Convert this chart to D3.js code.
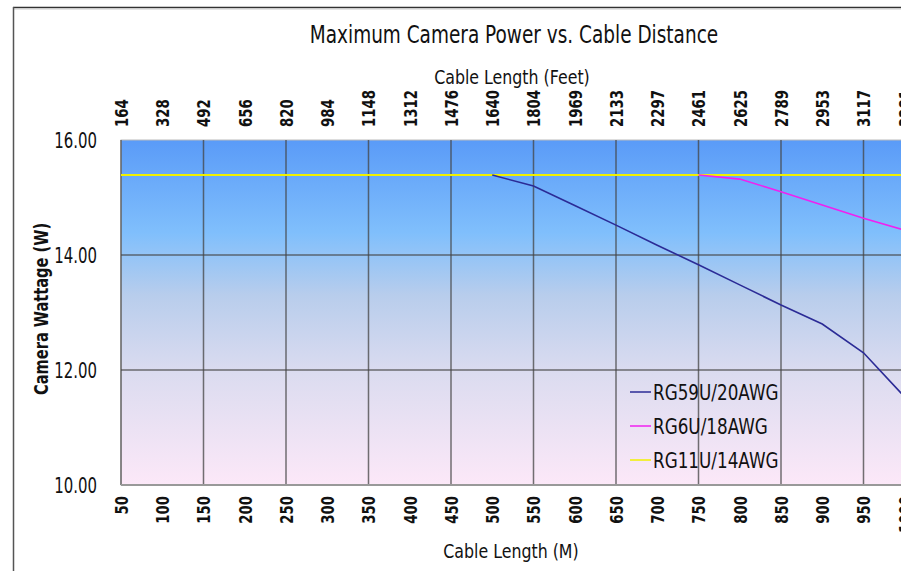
<!DOCTYPE html>
<html>
<head>
<meta charset="utf-8">
<script src="https://cdn.jsdelivr.net/npm/d3@7"></script>
<style>
body { margin: 0; background: #fff; }
svg text { font-family: "DejaVu Sans", sans-serif; fill: #111; }
</style>
</head>
<body>
<div id="chart"></div>
<script>
// data
const meters = [50,100,150,200,250,300,350,400,450,500,550,600,650,700,750,800,850,900,950,1000];
const feet = [164,328,492,656,820,984,1148,1312,1476,1640,1804,1969,2133,2297,2461,2625,2789,2953,3117,3281];
const yTicks = [10, 12, 14, 16];

const rg59 = [[500,15.39],[550,15.20],[600,14.86],[650,14.52],[700,14.17],[750,13.83],[800,13.48],[850,13.13],[900,12.80],[950,12.30],[1000,11.53]];
const rg6  = [[750,15.39],[800,15.32],[850,15.10],[900,14.87],[950,14.64],[1000,14.43]];
const rg11 = [[50,15.39],[1000,15.39]];

const seriesNames = ["RG59U/20AWG","RG6U/18AWG","RG11U/14AWG"];
const seriesColors = ["#2b2b96","#f020f0","#f0f000"];

const W = 901, H = 571;
const margin = { top: 140, left: 121, bottom: 86 };
const innerH = H - margin.top - margin.bottom;

const svg = d3.select("#chart").append("svg")
  .attr("width", W).attr("height", H);

// no condensed font installed, so squeeze text horizontally
function label(px, py, str, size, sx, anchor, rot) {
  const t = svg.append("text")
    .attr("transform", `translate(${px},${py}) rotate(${rot || 0}) scale(${sx},1)`)
    .attr("text-anchor", anchor || "middle")
    .style("font-size", size + "px")
    .text(str);
  return t;
}

// frame
svg.append("line").attr("x1", 13).attr("x2", W).attr("y1", 7.5).attr("y2", 7.5).attr("stroke", "#333").attr("stroke-width", 1.5);
svg.append("line").attr("x1", 13).attr("x2", W).attr("y1", 9).attr("y2", 9).attr("stroke", "#ccc");
svg.append("line").attr("x1", 13.5).attr("x2", 13.5).attr("y1", 7).attr("y2", H).attr("stroke", "#555").attr("stroke-width", 1.5);

const x = d3.scaleLinear().domain([50, 1000]).range([margin.left, 904.75]);
const y = d3.scaleLinear().domain([10, 16]).range([margin.top + innerH, margin.top]);

// background gradient
const grad = svg.append("defs").append("linearGradient")
  .attr("id", "bg").attr("x1", "0%").attr("y1", "0%").attr("x2", "0%").attr("y2", "100%");
grad.selectAll("stop")
  .data([
    {o: "0%", c: "#5a9bf8"},
    {o: "27%", c: "#80bffc"},
    {o: "45%", c: "#b8cdec"},
    {o: "68%", c: "#dcdcf0"},
    {o: "100%", c: "#fce8f8"}
  ])
  .enter().append("stop")
  .attr("offset", d => d.o)
  .attr("stop-color", d => d.c);

svg.append("rect")
  .attr("x", x(50)).attr("y", y(16))
  .attr("width", x(1000) - x(50)).attr("height", y(10) - y(16))
  .attr("fill", "url(#bg)")
  .attr("stroke", "#bbb");

// grid
const gridX = meters.filter((d, i) => i % 2 === 0);
svg.append("g").selectAll("line")
  .data(gridX).enter().append("line")
  .attr("x1", d => x(d)).attr("x2", d => x(d))
  .attr("y1", y(16)).attr("y2", y(10))
  .attr("stroke", "#444").attr("stroke-opacity", 0.75).attr("stroke-width", 1.5);
svg.append("g").selectAll("line")
  .data(yTicks.slice(1, 3)).enter().append("line")
  .attr("x1", x(50)).attr("x2", x(1000))
  .attr("y1", d => y(d)).attr("y2", d => y(d))
  .attr("stroke", "#444").attr("stroke-opacity", 0.75).attr("stroke-width", 1.5);
svg.append("line")
  .attr("x1", x(50)).attr("x2", x(1000)).attr("y1", y(10)).attr("y2", y(10))
  .attr("stroke", "#999").attr("stroke-width", 2);

// axes
const tickSx = 0.74;
const xBottom = d3.axisBottom(x).tickValues(meters).tickSize(0).tickPadding(0).tickFormat(d3.format("d"));
const gb = svg.append("g").attr("transform", `translate(0,${y(10)})`).call(xBottom);
gb.select(".domain").remove();
gb.selectAll("text")
  .attr("transform", `rotate(-90) scale(${tickSx},1)`)
  .attr("x", -11 / tickSx).attr("y", 0).attr("dy", "0.36em")
  .style("text-anchor", "end")
  .style("font-size", "18px").style("font-weight", "bold");

const xTop = d3.axisTop(x).tickValues(meters).tickSize(0).tickPadding(0).tickFormat((d, i) => feet[i]);
const gt = svg.append("g").attr("transform", `translate(0,${y(16)})`).call(xTop);
gt.select(".domain").remove();
gt.selectAll("text")
  .attr("transform", `rotate(-90) scale(${tickSx},1)`)
  .attr("x", 13 / tickSx).attr("y", 0).attr("dy", "0.36em")
  .style("text-anchor", "start")
  .style("font-size", "18px").style("font-weight", "bold");

const ySx = 0.68;
const yAxis = d3.axisLeft(y).tickValues(yTicks).tickSize(0).tickPadding(0).tickFormat(d3.format(".2f"));
const gy = svg.append("g").attr("transform", `translate(97,0)`).call(yAxis);
gy.select(".domain").remove();
gy.selectAll("text")
  .attr("x", 0)
  .attr("transform", `scale(${ySx},1)`)
  .style("font-size", "22px");

// titles
label(514, 43, "Maximum Camera  Power vs. Cable Distance", 24, 0.77);
label(512, 84, "Cable Length (Feet)", 20, 0.79);
label(511, 558, "Cable Length (M)", 20, 0.79);
label(48, 309, "Camera Wattage (W)", 19, 0.77, "middle", -90).style("font-weight", "bold");

// lines
const line = d3.line().x(d => x(d[0])).y(d => y(d[1]));
svg.append("path").datum(rg11).attr("d", line).attr("fill", "none").attr("stroke", seriesColors[2]).attr("stroke-width", 2);
svg.append("path").datum(rg6).attr("d", line).attr("fill", "none").attr("stroke", seriesColors[1]).attr("stroke-width", 1.6);
svg.append("path").datum(rg59).attr("d", line).attr("fill", "none").attr("stroke", seriesColors[0]).attr("stroke-width", 1.6);

// legend
const legend = svg.append("g").attr("transform", "translate(630,392)");
seriesNames.forEach((name, i) => {
  const row = legend.append("g").attr("transform", `translate(0,${i * 34})`);
  row.append("line").attr("x1", 0).attr("x2", 21).attr("y1", 0).attr("y2", 0)
    .attr("stroke", seriesColors[i]).attr("stroke-width", 1.5);
  row.append("text").attr("transform", "translate(23,0) scale(0.8,1)")
    .attr("dy", "0.36em")
    .style("font-size", "21px").text(name);
});
</script>
</body>
</html>
